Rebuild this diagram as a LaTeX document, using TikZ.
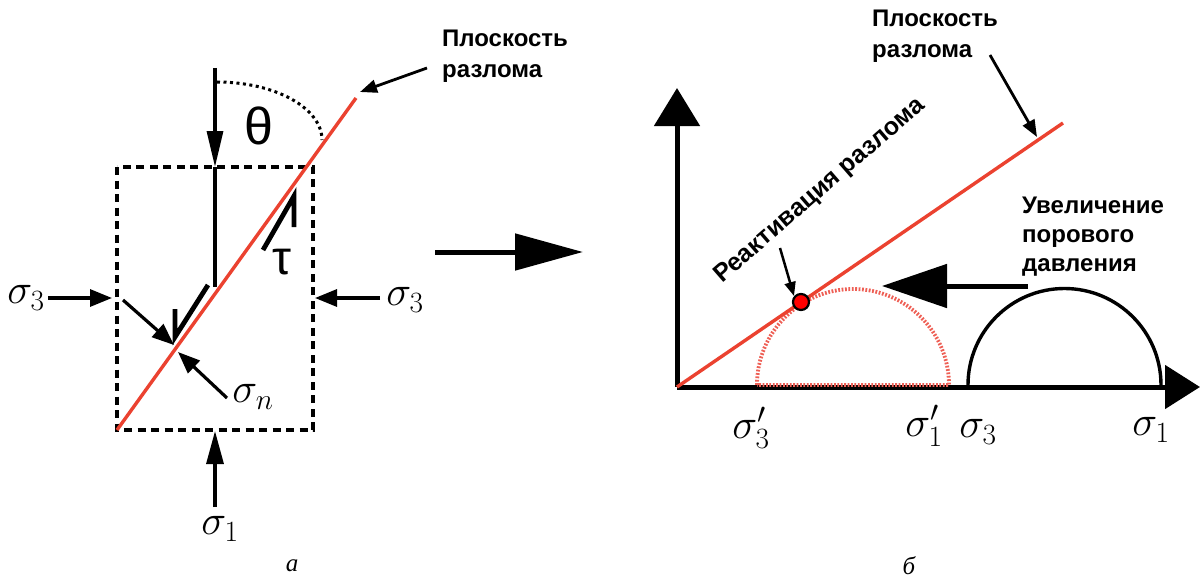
\RequirePackage{fix-cm}
\documentclass[tikz,border=0pt]{standalone}
\usepackage{fontspec}
\newfontfamily\labfont{Liberation Sans}
\newfontfamily\grfont{Liberation Sans}
\newfontfamily\capfont{Liberation Serif}
\usetikzlibrary{arrows.meta}
\definecolor{faultred}{RGB}{235,66,48}
\definecolor{dotred}{RGB}{238,95,85}
\tikzset{
  blk/.style={line width=3.2pt, black},
  thickblk/.style={line width=5pt, black},
  dashbox/.style={line width=3.4pt, dash pattern=on 8pt off 5.5pt},
  dotarc/.style={line width=3pt, dash pattern=on 3pt off 3.5pt},
  fault/.style={line width=3.4pt, faultred},
  reddots/.style={line width=3.8pt, dotred, dash pattern=on 1.8pt off 1.6pt},
  smallarr/.style={blk, -{Triangle[length=22pt,width=17pt]}},
  labarr/.style={line width=2.8pt, -{Triangle[length=17pt,width=13pt]}},
  siglab/.style={inner sep=0pt, font=\fontsize{42}{48}\selectfont},
  grlab/.style={inner sep=0pt, font=\fontsize{52}{58}\selectfont\grfont},
  boldlab/.style={inner sep=0pt, anchor=north west, align=left, font=\fontsize{24}{31}\selectfont\labfont\bfseries},
  caplab/.style={inner sep=0pt, font=\fontsize{25}{30}\selectfont\capfont\itshape},
}
\begin{document}
\begin{tikzpicture}[x=1pt,y=-1pt, line join=miter]
\useasboundingbox (0,0) rectangle (1200,578);
% ---------------- panel a ----------------
\draw[dashbox] (117,167) rectangle (313,430);
\coordinate (vt) at (215,68);
\coordinate (vm) at (215,167);
\coordinate (vb) at (215,287);
\draw[blk, -{Triangle[length=36pt,width=16pt]}] (vt) -- (vm);
\draw[blk] (vm) -- (vb);
\draw[dotarc] (217,82) arc[start angle=270, end angle=360, x radius=105, y radius=58];
\node[grlab] (theta) at (259,126) {θ};
\coordinate (f1) at (117,430);
\coordinate (f2) at (356,98);
\draw[fault] (f1) -- (f2);
% tau harpoon
\coordinate (ta) at (263,250);
\coordinate (tb) at (294,196);
\coordinate (tc) at (294,227);
\draw[line width=4.8pt] (ta) -- (tb) -- (tc);
\node[grlab, font=\fontsize{48}{54}\selectfont\grfont] (tau) at (282,262) {τ};
% slip harpoon
\coordinate (sa) at (208,285);
\coordinate (sb) at (175,337);
\coordinate (sc) at (175,309);
\draw[line width=4.8pt] (sa) -- (sb) -- (sc);
% sigma n arrows
\coordinate (n1a) at (123,300);
\coordinate (n1b) at (174,345);
\coordinate (n2a) at (227,398);
\coordinate (n2b) at (178,352);
\draw[smallarr] (n1a) -- (n1b);
\draw[smallarr] (n2a) -- (n2b);
\node[siglab] (sn) at (253,397) {$\sigma_n$};
% sigma 3 left / right
\node[siglab] (s3l) at (26,298) {$\sigma_3$};
\coordinate (l3a) at (48,298);
\coordinate (l3b) at (112,298);
\draw[smallarr] (l3a) -- (l3b);
\coordinate (r3a) at (380,298);
\coordinate (r3b) at (315,298);
\draw[smallarr] (r3a) -- (r3b);
\node[siglab] (s3r) at (405,300) {$\sigma_3$};
% sigma 1 bottom
\coordinate (b1a) at (215,507);
\coordinate (b1b) at (215,431);
\draw[blk, -{Triangle[length=33pt,width=17pt]}] (b1a) -- (b1b);
\node[siglab] (s1b) at (220,529) {$\sigma_1$};
\node[caplab] (capa) at (292,566) {а};
% label
\node[boldlab] (planeL) at (442,30) {Плоскость\\разлома};
\coordinate (pla) at (427,68);
\coordinate (plb) at (360,92);
\draw[labarr] (pla) -- (plb);
% big arrow
\coordinate (ba) at (435,252);
\coordinate (bb) at (583,252);
\draw[thickblk, -{Triangle[length=68pt,width=36pt]}] (ba) -- (bb);
% ---------------- panel b ----------------
\coordinate (O) at (677,387);
\coordinate (ytop) at (677,88);
\coordinate (xend) at (1200,387);
\draw[thickblk, -{Triangle[length=38pt,width=45pt]}] (O) -- (ytop);
\draw[thickblk, -{Triangle[length=35pt,width=43pt]}] (O) -- (xend);
% dotted red circle
\draw[reddots] (757,385) arc[start angle=180, end angle=360, radius=96] -- cycle;
% black circle
\draw[line width=3.4pt] (968,385) arc[start angle=180, end angle=360, radius=96.5];
% fault line
\coordinate (g2) at (1063,123);
\draw[fault] (O) -- (g2);
\node[circle, fill=red, draw=black, line width=2.2pt, minimum size=16pt, inner sep=0pt] (dot) at (801,302) {};
% rotated label
\node[inner sep=0pt, font=\fontsize{25}{28}\selectfont\labfont\bfseries, rotate=41] (react) at (820,191) {Реактивация разлома};
\coordinate (ra) at (780,248);
\coordinate (rb) at (794,296);
\draw[line width=2.5pt, -{Triangle[length=14pt,width=11pt]}] (ra) -- (rb);
% plane label right
\node[boldlab] (planeR) at (872,10) {Плоскость\\разлома};
\coordinate (pra) at (990,55);
\coordinate (prb) at (1037,137);
\draw[labarr] (pra) -- (prb);
% pore pressure
\node[boldlab, font=\fontsize{24}{29}\selectfont\labfont\bfseries] (pore) at (1022,197) {Увеличение\\порового\\давления};
\coordinate (pa) at (1028,286);
\coordinate (pb) at (882,286);
\draw[thickblk, -{Triangle[length=65pt,width=43pt]}] (pa) -- (pb);
% axis labels
\node[siglab] (s3p) at (751,428) {$\sigma_3^{\prime}$};
\node[siglab] (s1p) at (924,426) {$\sigma_1^{\prime}$};
\node[siglab] (s3) at (978,432) {$\sigma_3$};
\node[siglab] (s1) at (1151,430) {$\sigma_1$};
\node[caplab] (capb) at (909,566) {б};
\end{tikzpicture}
\end{document}
